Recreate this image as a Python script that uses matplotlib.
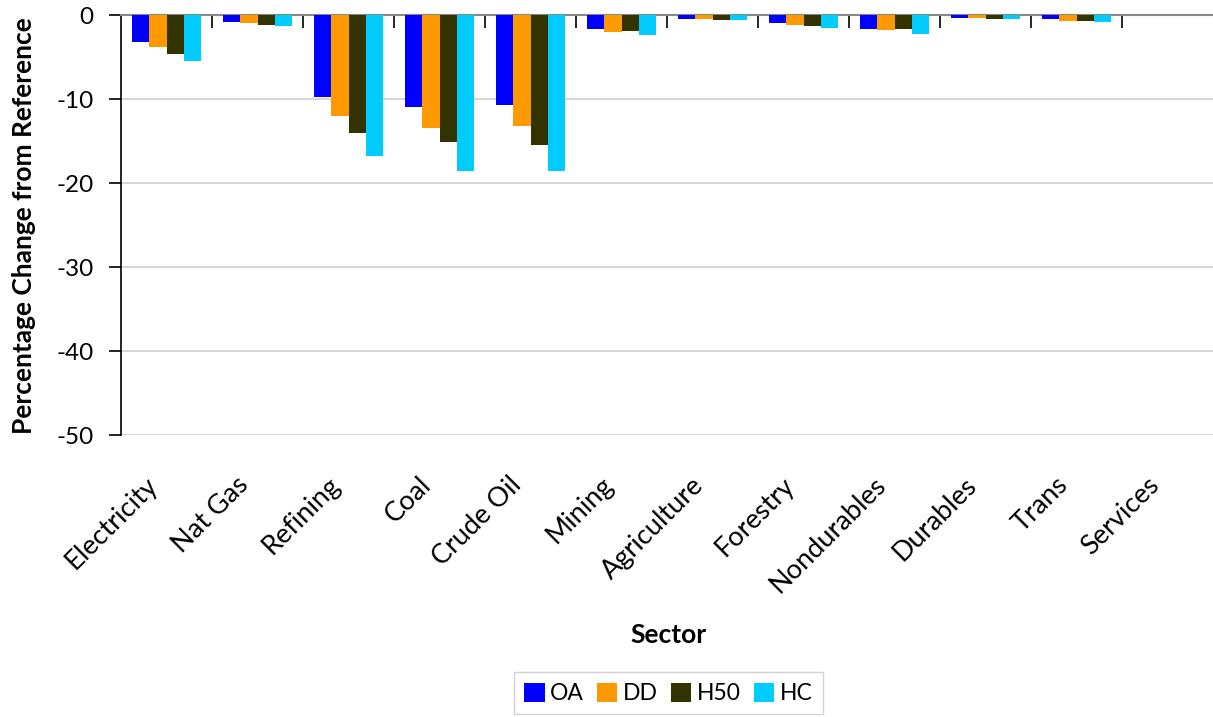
import numpy as np
import matplotlib.pyplot as plt

plt.rcParams['font.family'] = ['Lato', 'DejaVu Sans']
plt.rcParams['axes.unicode_minus'] = False

sectors = ['Electricity', 'Nat Gas', 'Refining', 'Coal', 'Crude Oil', 'Mining',
           'Agriculture', 'Forestry', 'Nondurables', 'Durables', 'Trans', 'Services']

oa = [-3.2, -0.8, -9.7, -11.0, -10.7, -1.7, -0.5, -0.95, -1.6, -0.3, -0.5, 0.0]
dd = [-3.85, -0.95, -12.0, -13.45, -13.25, -2.0, -0.5, -1.2, -1.8, -0.3, -0.65, 0.0]
h50 = [-4.6, -1.15, -14.0, -15.1, -15.5, -1.9, -0.6, -1.25, -1.7, -0.45, -0.7, 0.0]
hc = [-5.45, -1.35, -16.75, -18.6, -18.5, -2.4, -0.6, -1.5, -2.2, -0.5, -0.85, 0.0]

series_names = ['OA', 'DD', 'H50', 'HC']
colors = ['#0000ff', '#ff9900', '#333300', '#00ccff']

fig = plt.figure(figsize=(12.13, 7.17), dpi=100)
ax = fig.add_axes([0.0998, 0.393, 0.9002, 0.586])

x = np.arange(len(sectors))
w = 0.75 / 4
for i, (vals, name, c) in enumerate(zip([oa, dd, h50, hc], series_names, colors)):
    ax.bar(x - 0.375 + w * (i + 0.5), vals, width=w, color=c, label=name, zorder=3)

ax.set_xlim(-0.5, len(sectors) - 0.5)
ax.set_ylim(-50, 0)
ax.set_yticks(np.arange(-50, 1, 10))
ax.yaxis.grid(True, color='#d0d0d0', linewidth=1.2, zorder=0)

# rotated category labels sit a little left of each group centre
ax.set_xticks(x - 0.14)
ax.set_xticklabels(sectors, rotation=45, ha='right', va='center',
                   rotation_mode='anchor', fontsize=19.5)
# boundary ticks hang down from the zero line
ax.set_xticks(np.arange(0.5, len(sectors) - 0.5, 1), minor=True)
ax.tick_params(axis='x', which='major', length=0, pad=33)
ax.tick_params(axis='x', which='minor', top=True, bottom=False, direction='in',
               length=9, width=1.2, color='black')
ax.tick_params(axis='y', labelsize=17.5, length=9, width=1.2, direction='out', pad=11)

for s in ['right', 'bottom']:
    ax.spines[s].set_visible(False)
ax.spines['top'].set_color('#888888')
ax.spines['top'].set_linewidth(1.5)
ax.spines['left'].set_linewidth(1.2)

fig.text(24 / 1213, 0.686, 'Percentage Change from Reference', rotation=90,
         fontsize=19, fontweight='bold', ha='center', va='center')
fig.text(0.551, 0.114, 'Sector', fontsize=19, fontweight='bold', ha='center', va='center')

fig.legend(loc='center', bbox_to_anchor=(0.551, 0.033), ncol=4, fontsize=16.5,
           frameon=True, fancybox=False, edgecolor='#c8c8c8', handlelength=0.9,
           handleheight=0.9, handletextpad=0.25, columnspacing=0.55, borderpad=0.45,
           borderaxespad=0)

fig.savefig('out.png', dpi=100)
